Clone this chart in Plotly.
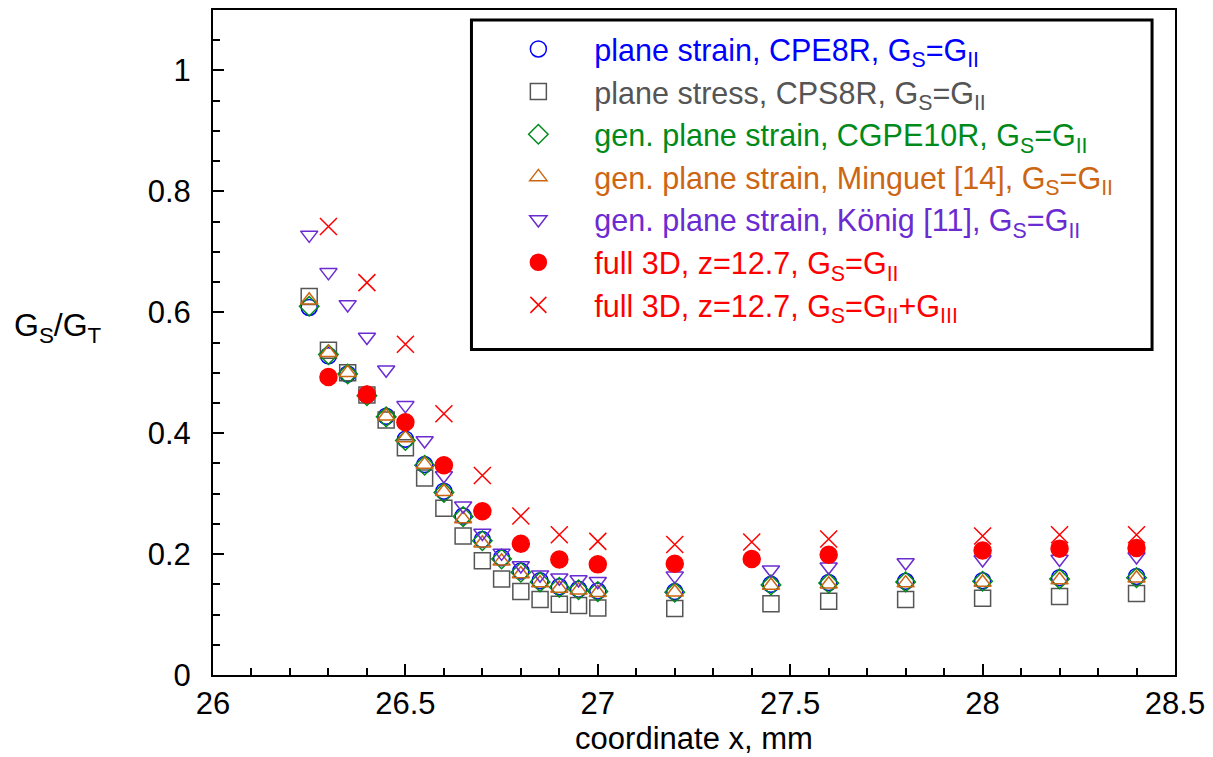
import plotly.graph_objects as go

# ---------------- data ----------------
x_2d = [26.25, 26.3, 26.35, 26.4, 26.45, 26.5, 26.55, 26.6, 26.65, 26.7, 26.75, 26.8,
        26.85, 26.9, 26.95, 27.0, 27.2, 27.45, 27.6, 27.8, 28.0, 28.2, 28.4]
cpe8r = [0.608, 0.528, 0.498, 0.463, 0.428, 0.390, 0.348, 0.304, 0.263, 0.224, 0.194, 0.172,
         0.156, 0.146, 0.142, 0.139, 0.138, 0.150, 0.153, 0.155, 0.156, 0.161, 0.163]
cps8r = [0.626, 0.537, 0.500, 0.463, 0.422, 0.376, 0.326, 0.276, 0.230, 0.189, 0.159, 0.138,
         0.125, 0.117, 0.115, 0.111, 0.110, 0.118, 0.122, 0.125, 0.127, 0.130, 0.135]
cgpe10r = [0.610, 0.530, 0.498, 0.462, 0.427, 0.388, 0.347, 0.302, 0.262, 0.222, 0.192, 0.170,
           0.154, 0.145, 0.141, 0.138, 0.137, 0.149, 0.152, 0.154, 0.155, 0.159, 0.161]
minguet = [0.620, 0.533, 0.500, 0.465, 0.428, 0.392, 0.348, 0.303, 0.258, 0.218, 0.188, 0.167,
           0.152, 0.143, 0.140, 0.136, 0.137, 0.148, 0.150, 0.152, 0.153, 0.157, 0.160]
koenig = [0.728, 0.666, 0.613, 0.559, 0.505, 0.446, 0.388, 0.330, 0.280, 0.235, 0.202, 0.181,
          0.166, 0.161, 0.158, 0.155, 0.164, 0.174, 0.179, 0.186, 0.191, 0.192, 0.196]

x_3d = [26.3, 26.4, 26.5, 26.6, 26.7, 26.8, 26.9, 27.0, 27.2, 27.4, 27.6, 28.0, 28.2, 28.4]
full3d_ii = [0.493, 0.464, 0.418, 0.347, 0.271, 0.217, 0.191, 0.183, 0.184, 0.192, 0.199,
             0.206, 0.209, 0.210]
full3d_ii_iii = [0.742, 0.649, 0.547, 0.432, 0.330, 0.263, 0.232, 0.221, 0.216, 0.220, 0.225,
                 0.230, 0.232, 0.232]

names = [
    "plane strain, CPE8R, G<sub>S</sub>=G<sub>II</sub>",
    "plane stress, CPS8R, G<sub>S</sub>=G<sub>II</sub>",
    "gen. plane strain, CGPE10R, G<sub>S</sub>=G<sub>II</sub>",
    "gen. plane strain, Minguet [14], G<sub>S</sub>=G<sub>II</sub>",
    "gen. plane strain, König [11], G<sub>S</sub>=G<sub>II</sub>",
    "full 3D, z=12.7, G<sub>S</sub>=G<sub>II</sub>",
    "full 3D, z=12.7, G<sub>S</sub>=G<sub>II</sub>+G<sub>III</sub>",
]
colors = ["#0000ff", "#555555", "#008a1a", "#cc6612", "#6a2bd2", "#ff0000", "#ff0000"]
symbols = ["circle-open", "square-open", "diamond-open", "triangle-up-open",
           "triangle-down-open", "circle", "x-thin-open"]
sizes = [16, 16, 15, 15, 15, 17, 17]

xs = [x_2d, x_2d, x_2d, x_2d, x_2d, x_3d, x_3d]
ys = [cpe8r, cps8r, cgpe10r, minguet, koenig, full3d_ii, full3d_ii_iii]

FONT = "Liberation Sans, Arial, sans-serif"

fig = go.Figure()
for x, y, n, c, s, sz in zip(xs, ys, names, colors, symbols, sizes):
    fig.add_trace(go.Scatter(
        x=x, y=y, mode="markers",
        name=f"<span style='color:{c}'>{n}</span>",
        marker=dict(symbol=s, size=sz, color=c, line=dict(color=c, width=1.5)),
    ))

fig.update_layout(
    width=1213, height=757,
    margin=dict(l=213, r=36, t=8, b=79),
    paper_bgcolor="white", plot_bgcolor="white",
    font=dict(family=FONT, size=31, color="black"),
    showlegend=True,
    legend=dict(
        x=0.280, y=0.981, xanchor="left", yanchor="top",
        bgcolor="rgba(0,0,0,0)", borderwidth=0,
        font=dict(family=FONT, size=30.5),
        itemwidth=102,
    ),
    xaxis=dict(
        range=[26, 28.5], dtick=0.5, tick0=26,
        showgrid=False, zeroline=False,
        showline=True, linecolor="black", linewidth=2, mirror=True,
        ticks="inside", ticklen=11, tickwidth=1.5, tickcolor="black",
        minor=dict(dtick=0.1, ticks="inside", ticklen=7, tickwidth=1.5, tickcolor="black"),
        title=dict(text="coordinate x, mm", font=dict(size=31), standoff=6),
        tickfont=dict(size=31),
    ),
    yaxis=dict(
        range=[0, 1.1], dtick=0.2, tick0=0,
        showgrid=False, zeroline=False,
        showline=True, linecolor="black", linewidth=2, mirror=True,
        ticks="inside", ticklen=11, tickwidth=1.5, tickcolor="black",
        minor=dict(dtick=0.05, ticks="inside", ticklen=7, tickwidth=1.5, tickcolor="black"),
        tickfont=dict(size=31),
        ticklabelstandoff=14,
    ),
)

# legend frame
fig.add_shape(type="rect", xref="paper", yref="paper",
              x0=(472 - 213) / 964, x1=(1154 - 213) / 964,
              y0=(678 - 350) / 670, y1=(678 - 18) / 670,
              line=dict(color="black", width=3), fillcolor="rgba(0,0,0,0)", layer="above")

# y-axis title
fig.add_annotation(text="G<sub>S</sub>/G<sub>T</sub>", xref="paper", yref="paper",
                   x=(12 - 213) / 964, y=(678 - 328) / 670, xanchor="left", yanchor="middle",
                   showarrow=False, font=dict(family=FONT, size=32, color="black"))

fig.write_html("out.html", config={"displayModeBar": False},
               post_script="document.body.style.margin='0px';")
